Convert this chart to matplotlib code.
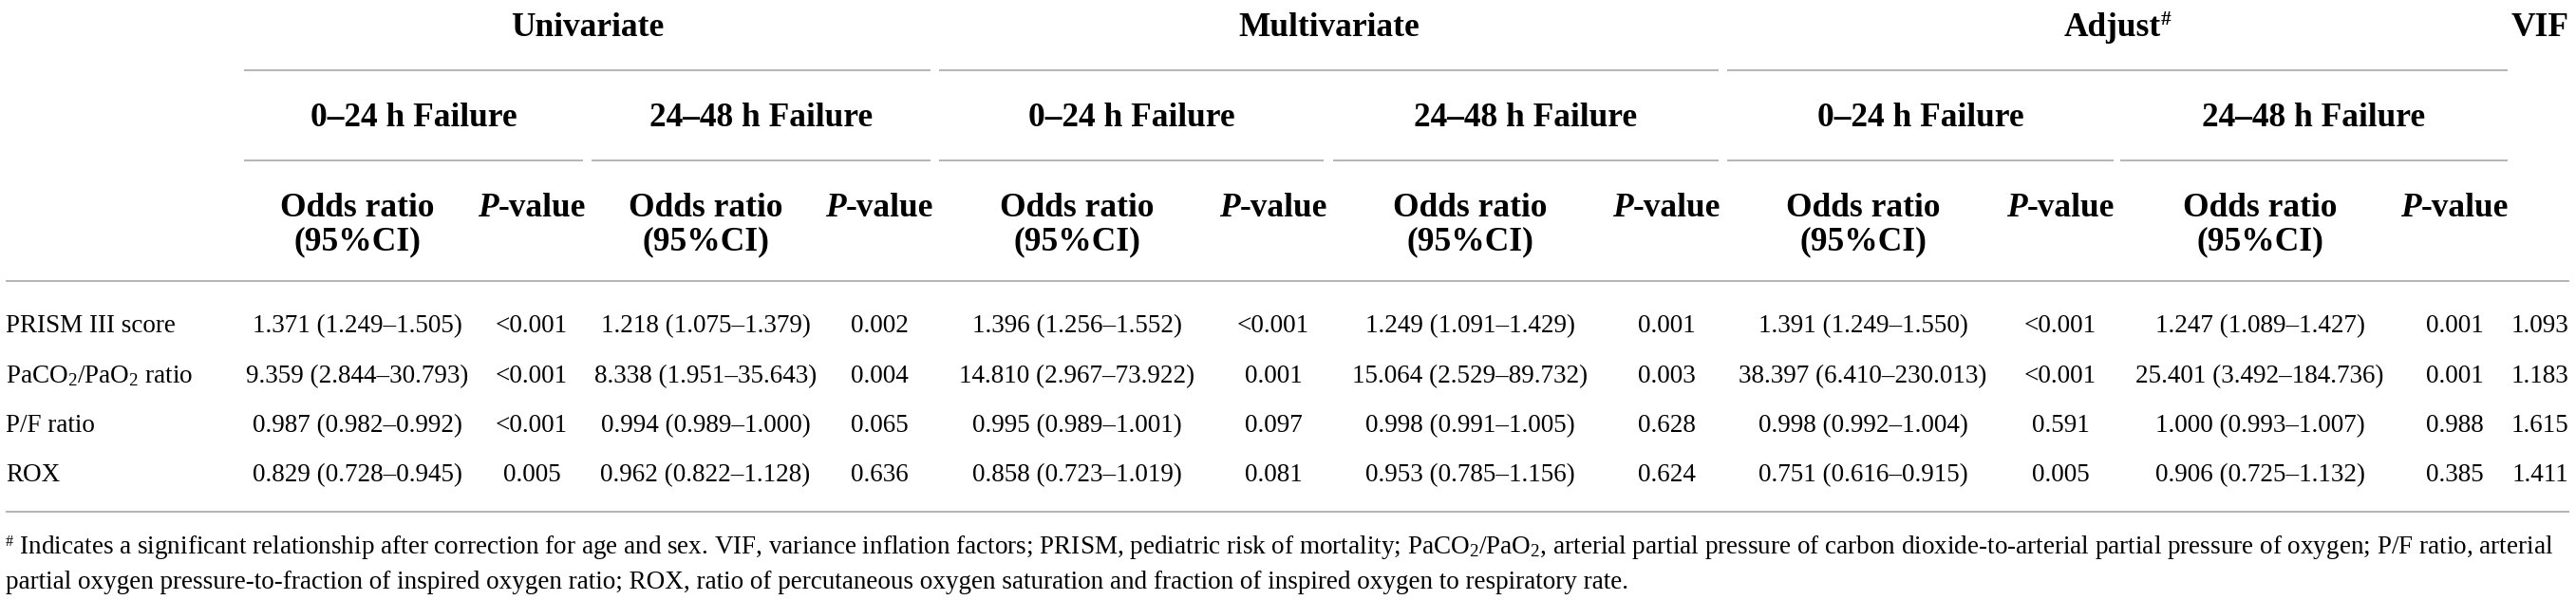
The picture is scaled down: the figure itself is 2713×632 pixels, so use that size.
import matplotlib
matplotlib.use("Agg")
import matplotlib.pyplot as plt

plt.rcParams['font.family'] = ['Liberation Serif', 'DejaVu Serif']
plt.rcParams['mathtext.fontset'] = 'custom'
plt.rcParams['mathtext.rm'] = 'Liberation Serif'
plt.rcParams['mathtext.it'] = 'Liberation Serif:italic'
plt.rcParams['mathtext.bf'] = 'Liberation Serif:bold'

# table content
groups = ['Univariate', 'Multivariate', 'Adjust']
windows = ['0\u201324 h Failure', '24\u201348 h Failure']
row_labels = ['PRISM III score', 'PaCO$_2$/PaO$_2$ ratio', 'P/F ratio', 'ROX']

uni_024_or = ['1.371 (1.249\u20131.505)', '9.359 (2.844\u201330.793)', '0.987 (0.982\u20130.992)', '0.829 (0.728\u20130.945)']
uni_024_p = ['<0.001', '<0.001', '<0.001', '0.005']
uni_2448_or = ['1.218 (1.075\u20131.379)', '8.338 (1.951\u201335.643)', '0.994 (0.989\u20131.000)', '0.962 (0.822\u20131.128)']
uni_2448_p = ['0.002', '0.004', '0.065', '0.636']
multi_024_or = ['1.396 (1.256\u20131.552)', '14.810 (2.967\u201373.922)', '0.995 (0.989\u20131.001)', '0.858 (0.723\u20131.019)']
multi_024_p = ['<0.001', '0.001', '0.097', '0.081']
multi_2448_or = ['1.249 (1.091\u20131.429)', '15.064 (2.529\u201389.732)', '0.998 (0.991\u20131.005)', '0.953 (0.785\u20131.156)']
multi_2448_p = ['0.001', '0.003', '0.628', '0.624']
adj_024_or = ['1.391 (1.249\u20131.550)', '38.397 (6.410\u2013230.013)', '0.998 (0.992\u20131.004)', '0.751 (0.616\u20130.915)']
adj_024_p = ['<0.001', '<0.001', '0.591', '0.005']
adj_2448_or = ['1.247 (1.089\u20131.427)', '25.401 (3.492\u2013184.736)', '1.000 (0.993\u20131.007)', '0.906 (0.725\u20131.132)']
adj_2448_p = ['0.001', '0.001', '0.988', '0.385']
vif = ['1.093', '1.183', '1.615', '1.411']

footnote_1 = (' Indicates a significant relationship after correction for age and sex. VIF, variance inflation factors; '
              'PRISM, pediatric risk of mortality; PaCO$_2$/PaO$_2$, arterial partial pressure of carbon '
              'dioxide-to-arterial partial pressure of oxygen; P/F ratio, arterial')
footnote_2 = ('partial oxygen pressure-to-fraction of inspired oxygen ratio; ROX, ratio of percutaneous oxygen '
              'saturation and fraction of inspired oxygen to respiratory rate.')

columns = [uni_024_or, uni_024_p, uni_2448_or, uni_2448_p,
           multi_024_or, multi_024_p, multi_2448_or, multi_2448_p,
           adj_024_or, adj_024_p, adj_2448_or, adj_2448_p, vif]

# layout (pixels)
W, H = 2713, 632
col_x = [376, 560, 743, 926, 1134, 1341, 1548, 1755, 1962, 2170, 2380, 2585, 2675]
group_spans = [(257, 980), (989, 1810), (1819, 2641)]
window_spans = [(257, 614), (623, 980), (989, 1394), (1404, 1810), (1819, 2226), (2233, 2641)]
row_y = [350, 403, 455, 507]
line_color = '#a8a8a8'
hdr_size = 25.5
body_size = 19.5
foot_size = 17.2

fig = plt.figure(figsize=(W / 100, H / 100), dpi=100)
ax = fig.add_axes([0, 0, 1, 1])
ax.set_xlim(0, W)
ax.set_ylim(H, 0)
ax.axis('off')
renderer = fig.canvas.get_renderer()


def draw_runs(x, y, runs, ha='center'):
    # runs: list of (text, kwargs, dy) drawn side by side on a common baseline
    items = []
    total = 0
    for s, kw, dy in runs:
        t = ax.text(0, y + dy, s, va='baseline', ha='left', **kw)
        w = t.get_window_extent(renderer).width
        items.append((t, w, dy))
        total += w
    x0 = x - total / 2 if ha == 'center' else x
    for t, w, dy in items:
        t.set_position((x0, y + dy))
        x0 += w
    return total


# rules
for x0, x1 in group_spans:
    ax.plot([x0, x1], [74, 74], color=line_color, lw=1.2, solid_capstyle='butt')
for x0, x1 in window_spans:
    ax.plot([x0, x1], [169, 169], color=line_color, lw=1.2, solid_capstyle='butt')
ax.plot([6, 2706], [296, 296], color=line_color, lw=1.2, solid_capstyle='butt')
ax.plot([6, 2706], [539, 539], color=line_color, lw=1.2, solid_capstyle='butt')

# header row 1
bold = dict(fontsize=hdr_size, fontweight='bold')
for (x0, x1), g in zip(group_spans, groups):
    if g == 'Adjust':
        draw_runs((x0 + x1) / 2, 38, [(g, bold, 0), ('#', dict(fontsize=hdr_size * 0.6, fontweight='bold'), -12)])
    else:
        ax.text((x0 + x1) / 2, 38, g, ha='center', va='baseline', **bold)
ax.text(col_x[-1], 38, 'VIF', ha='center', va='baseline', **bold)

# header row 2
for i, (x0, x1) in enumerate(window_spans):
    ax.text((x0 + x1) / 2, 133, windows[i % 2], ha='center', va='baseline', **bold)

# header row 3
for i in range(12):
    if i % 2 == 0:
        ax.text(col_x[i], 228, 'Odds ratio', ha='center', va='baseline', **bold)
        ax.text(col_x[i], 263, '(95%CI)', ha='center', va='baseline', **bold)
    else:
        draw_runs(col_x[i], 228, [('P', dict(fontsize=hdr_size, fontweight='bold', fontstyle='italic'), 0),
                                  ('-value', bold, 0)])

# body
for r, label in enumerate(row_labels):
    ax.text(6, row_y[r], label, ha='left', va='baseline', fontsize=body_size)
    for c, vals in enumerate(columns):
        ax.text(col_x[c], row_y[r], vals[r], ha='center', va='baseline', fontsize=body_size)

# footnote: scale the size so the first line runs to the right rule end
probe = ax.text(0, 0, '#' + footnote_1, fontsize=foot_size)
foot_size = foot_size * 2690 / probe.get_window_extent(renderer).width
probe.remove()
draw_runs(6, 583, [('#', dict(fontsize=foot_size * 0.6), -8), (footnote_1, dict(fontsize=foot_size), 0)], ha='left')
ax.text(6, 620, footnote_2, ha='left', va='baseline', fontsize=foot_size)

fig.savefig('out.png', dpi=100)
